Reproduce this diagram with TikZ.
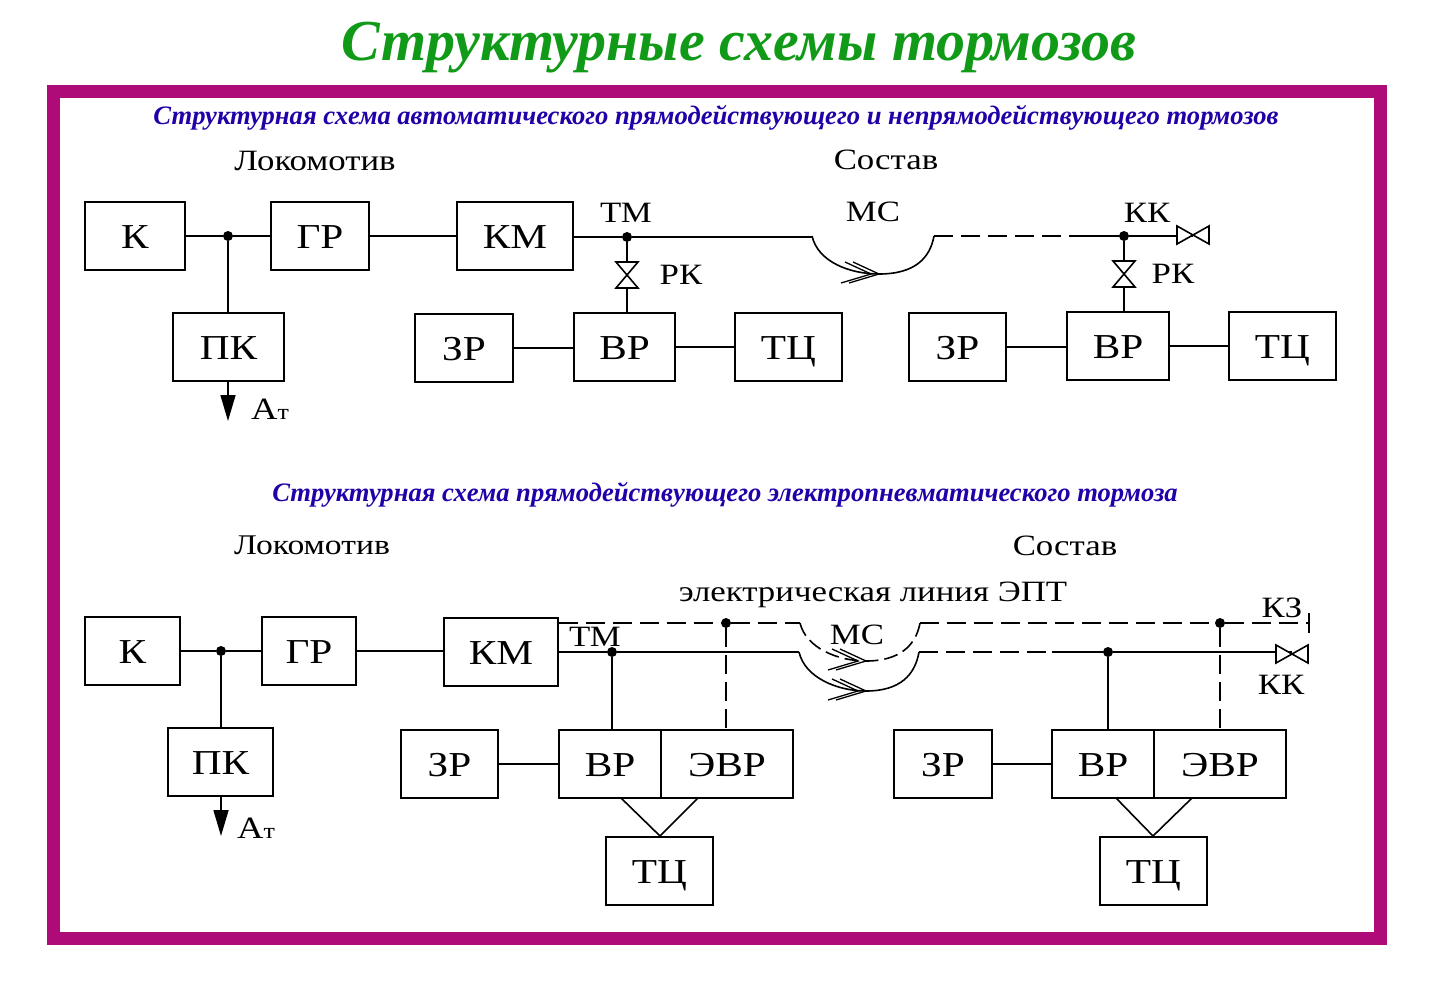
\documentclass[tikz,border=0pt]{standalone}
\usepackage{fontspec}
\setmainfont{Liberation Serif}
\newfontfamily\lblfont[FakeStretch=1.18]{Liberation Serif}
\usetikzlibrary{arrows.meta,positioning,calc}
\definecolor{framecol}{HTML}{AE0A78}
\definecolor{titlecol}{HTML}{109A18}
\definecolor{headcol}{HTML}{2200A8}
\begin{document}
\begin{tikzpicture}[x=1pt,y=-1pt,
  blk/.style={draw,line width=1.6pt,minimum height=68pt,inner sep=0pt,text height=24pt,text depth=0pt,font=\lblfont\fontsize{35}{35}\selectfont},
  lbl/.style={inner sep=0pt,font=\lblfont\fontsize{29.5}{29.5}\selectfont},
  head/.style={inner sep=0pt,text=headcol,font=\bfseries\itshape\fontsize{26.6}{26.6}\selectfont},
  dot/.style={circle,fill=black,inner sep=0pt,minimum size=10pt},
  lin/.style={line width=1.6pt},
  dsh/.style={lin,dash pattern=on 19pt off 8pt},
  arr/.style={lin,-{Stealth[inset=0pt,length=26pt,width=15pt]}},
  valveh/.pic={\draw[lin,fill=white] (-16,-9) -- (16,9) -- (16,-9) -- (-16,9) -- cycle;},
  valvev/.pic={\draw[lin,fill=white] (-11,-13) -- (11,13) -- (-11,13) -- (11,-13) -- cycle;},
  chev/.pic={\draw[line width=1.3pt] (-26,-12) -- (0,0) -- (-30,9) (-34,-12) -- (-8,0) -- (-38,9);}]
\useasboundingbox (0,0) rectangle (1429,987);
\node[inner sep=0pt,text=titlecol,font=\bfseries\itshape\fontsize{58}{58}\selectfont] (title) at (739,48) {Структурные схемы тормозов};
\node[draw=framecol,line width=13pt,minimum width=1327pt,minimum height=846pt,inner sep=0pt] (frame) at (717,515) {};
\node[head] (headA) at (716,118) {Структурная схема автоматического прямодействующего и непрямодействующего тормозов};
\node[head] (headB) at (725,495) {Структурная схема прямодействующего электропневматического тормоза};
% upper scheme
\node[lbl] (lokA) at (315,161) {Локомотив};
\node[lbl] (sosA) at (886,160) {Состав};
\node[blk,minimum width=100pt] (kA) at (135,236) {К};
\node[blk,minimum width=98pt] (grA) at (320,236) {ГР};
\node[blk,minimum width=116pt] (kmA) at (515,236) {КМ};
\node[blk,minimum width=111pt] (pkA) at (228.5,347) {ПК};
\node[blk,minimum width=98pt] (zrA) at (464,348) {ЗР};
\node[blk,minimum width=101pt] (vrA) at (624.5,347) {ВР};
\node[blk,minimum width=107pt] (tcA) at (788.5,347) {ТЦ};
\node[blk,minimum width=97pt] (zrB) at (957.5,347) {ЗР};
\node[blk,minimum width=102pt] (vrB) at (1118,346) {ВР};
\node[blk,minimum width=107pt] (tcB) at (1282.5,346) {ТЦ};
\node[dot] (d1) at (228,236) {};
\node[dot] (d2) at (627,237) {};
\node[dot] (d3) at (1124,236) {};
\node[lbl] (tmA) at (626,213) {ТМ};
\node[lbl] (msA) at (873,212) {МС};
\node[lbl] (kkA) at (1147,213) {КК};
\node[lbl] (rkA) at (681,275) {РК};
\node[lbl] (rkB) at (1173,274) {РК};
\coordinate (msA1) at (812,236);
\coordinate (msA2) at (879,274);
\coordinate (msA3) at (934,236);
\coordinate (dsA) at (1075,236);
\coordinate (vkA) at (1193,235);
\coordinate (at1) at (228,421);
\node[inner sep=0pt,anchor=west,font=\lblfont\fontsize{31}{31}\selectfont] (atA) at (251,409) {А\fontsize{22}{22}\selectfont т};
\draw[lin] (kA) -- (d1) -- (grA);
\draw[lin] (grA) -- (kmA);
\draw[lin] (d1) -- (d1 |- pkA.north);
\draw[arr] (d1 |- pkA.south) -- (at1);
\draw[lin] (kmA.east |- d2) -- (d2) -- (msA1 |- d2);
\draw[lin] (msA1) .. controls (818,262) and (850,274) .. (msA2) .. controls (915,274) and (930,258) .. (msA3);
\draw[dsh] (msA3) -- (dsA);
\draw[lin] (dsA) -- (d3) -- (d3 -| vkA);
\draw[lin] (d2) -- (d2 |- vrA.north);
\draw[lin] (d3) -- (d3 |- vrB.north);
\draw[lin] (zrA) -- (vrA.west |- zrA);
\draw[lin] (vrA) -- (tcA);
\draw[lin] (zrB) -- (vrB.west |- zrB);
\draw[lin] (vrB) -- (tcB);
\pic at (d2 |- 0,275) {valvev};
\pic at (d3 |- 0,274) {valvev};
\pic at (vkA) {valveh};
\pic at (msA2) {chev};
% lower scheme
\node[lbl,font=\lblfont\fontsize{28.5}{28.5}\selectfont] (lokB) at (312,545) {Локомотив};
\node[lbl] (sosB) at (1065,546) {Состав};
\node[lbl] (ept) at (873,595) {электрическая линия ЭПТ};
\node[blk,minimum width=95pt] (kC) at (132.5,651) {К};
\node[blk,minimum width=94pt] (grC) at (309,651) {ГР};
\node[blk,minimum width=114pt] (kmC) at (501,652) {КМ};
\node[blk,minimum width=105pt] (pkC) at (220.5,762) {ПК};
\node[blk,minimum width=97pt] (zrC) at (449.5,764) {ЗР};
\node[blk,minimum width=102pt] (vrC) at (610,764) {ВР};
\node[blk,minimum width=132pt] (evC) at (727,764) {ЭВР};
\node[blk,minimum width=107pt] (tcC) at (659.5,871) {ТЦ};
\node[blk,minimum width=98pt] (zrD) at (943,764) {ЗР};
\node[blk,minimum width=102pt] (vrD) at (1103,764) {ВР};
\node[blk,minimum width=132pt] (evD) at (1220,764) {ЭВР};
\node[blk,minimum width=107pt] (tcD) at (1153.5,871) {ТЦ};
\node[dot] (d4) at (221,651) {};
\node[dot] (d5) at (612,652) {};
\node[dot] (d6) at (726,623) {};
\node[dot] (d7) at (1108,652) {};
\node[dot] (d8) at (1220,623) {};
\node[lbl] (tmC) at (595,637) {ТМ};
\node[lbl] (msC) at (857,635) {МС};
\node[lbl] (kz) at (1282,608) {КЗ};
\node[lbl] (kkC) at (1281,685) {КК};
\node[inner sep=0pt,anchor=west,font=\lblfont\fontsize{31}{31}\selectfont] (atC) at (237,828) {А\fontsize{22}{22}\selectfont т};
\coordinate (at2) at (221,836);
\coordinate (msT1) at (800,623);
\coordinate (msT2) at (866,661);
\coordinate (msT3) at (920,623);
\coordinate (msL1) at (799,652);
\coordinate (msL2) at (866,691);
\coordinate (msL3) at (919,652);
\coordinate (dsC) at (1052,652);
\coordinate (vkC) at (1292,654);
\coordinate (kzEnd) at (1309,623);
\coordinate (ctC) at (660,836);
\coordinate (ctD) at (1153,836);
\draw[lin] (kC) -- (d4) -- (grC);
\draw[lin] (grC) -- (kmC.west |- grC);
\draw[lin] (d4) -- (d4 |- pkC.north);
\draw[arr] (d4 |- pkC.south) -- (at2);
\draw[lin] (kmC.east |- d5) -- (d5) -- (msL1);
\draw[lin] (d5) -- (d5 |- vrC.north);
\draw[dsh] (kmC.north east |- d6) -- (d6) -- (msT1);
\draw[dsh] (d6) -- (d6 |- evC.north);
\draw[lin,dash pattern=on 14pt off 6pt] (msT1) .. controls (806,648) and (838,661) .. (msT2) .. controls (900,661) and (916,645) .. (msT3);
\draw[lin] (msL1) .. controls (805,678) and (838,691) .. (msL2) .. controls (900,691) and (915,675) .. (msL3);
\draw[dsh] (msT3) -- (d8) -- (kzEnd);
\draw[dsh] (d8) -- (d8 |- evD.north);
\draw[dsh] (msL3) -- (dsC);
\draw[lin] (dsC) -- (d7) -- (d7 -| vkC);
\draw[lin] (d7) -- (d7 |- vrD.north);
\draw[lin] ($(kzEnd)+(0,-10)$) -- ($(kzEnd)+(0,10)$);
\draw[lin] (zrC) -- (vrC.west |- zrC);
\draw[lin] (zrD) -- (vrD.west |- zrD);
\draw[lin] (621,798) -- (ctC) -- (698,798);
\draw[lin] (1116,798) -- (ctD) -- (1192,798);
\pic at (vkC) {valveh};
\pic at (msT2) {chev};
\pic at (msL2) {chev};
\end{tikzpicture}
\end{document}
